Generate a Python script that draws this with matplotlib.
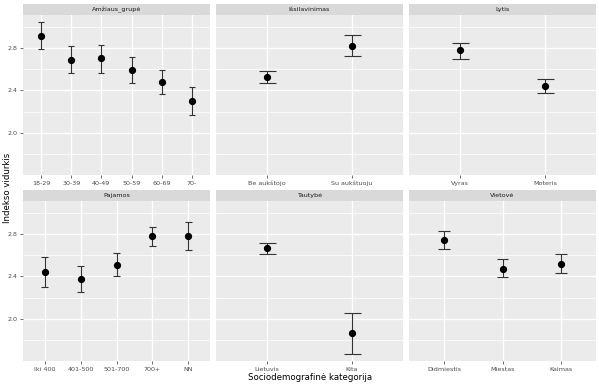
import matplotlib
matplotlib.use("Agg")
import matplotlib.pyplot as plt
import numpy as np

plt.rcParams['font.family'] = ['DejaVu Sans']

facets = ["Amžiaus_grupė", "Išsilavinimas", "Lytis", "Pajamos", "Tautybė", "Vietovė"]
cats = [
    ["18-29", "30-39", "40-49", "50-59", "60-69", "70-"],
    ["Be aukštojo", "Su aukštuoju"],
    ["Vyras", "Moteris"],
    ["Iki 400", "401-500", "501-700", "700+", "NN"],
    ["Lietuvis", "Kita"],
    ["Didmiestis", "Miestas", "Kaimas"],
]
means = [
    [2.91, 2.69, 2.70, 2.595, 2.48, 2.298],
    [2.524, 2.82],
    [2.775, 2.44],
    [2.44, 2.378, 2.506, 2.779, 2.779],
    [2.664, 1.869],
    [2.741, 2.474, 2.518],
]
lower = [
    [2.79, 2.56, 2.567, 2.474, 2.363, 2.167],
    [2.468, 2.725],
    [2.698, 2.375],
    [2.298, 2.251, 2.40, 2.688, 2.648],
    [2.611, 1.674],
    [2.657, 2.39, 2.428],
]
upper = [
    [3.04, 2.815, 2.825, 2.713, 2.595, 2.434],
    [2.586, 2.92],
    [2.847, 2.51],
    [2.586, 2.502, 2.617, 2.865, 2.909],
    [2.716, 2.06],
    [2.825, 2.567, 2.614],
]
y_ticks = [2.0, 2.4, 2.8]
y_minor = [1.8, 2.2, 2.6, 3.0]

W, H = 599, 384
fig = plt.figure(figsize=(W / 100, H / 100), dpi=100)
fig.patch.set_facecolor("white")

all_lo = min(min(l) for l in lower)
all_hi = max(max(u) for u in upper)
rng = all_hi - all_lo
ylim = (all_lo - 0.05 * rng, all_hi + 0.05 * rng)

col_x = [23, 216, 409]
pw = 187
rows = [(15, 175, 4), (201, 361, 190)]  # panel top, panel bottom, strip top

for i, name in enumerate(facets):
    r, c = divmod(i, 3)
    ptop, pbot, stop = rows[r]
    x0 = col_x[c]
    ax = fig.add_axes([x0 / W, 1 - pbot / H, pw / W, (pbot - ptop) / H])
    ax.set_facecolor("#EBEBEB")
    for s in ax.spines.values():
        s.set_visible(False)
    n = len(cats[i])
    xs = np.arange(1, n + 1)
    ax.set_xlim(0.4, n + 0.6)
    ax.set_ylim(*ylim)
    for yv in y_minor:
        ax.axhline(yv, color="white", lw=0.5, zorder=0)
    for yv in y_ticks:
        ax.axhline(yv, color="white", lw=1.0, zorder=0)
    for xv in xs:
        ax.axvline(xv, color="white", lw=1.0, zorder=0)
    ax.vlines(xs, lower[i], upper[i], color="#333333", lw=0.8, zorder=2)
    ax.hlines(lower[i], xs - 0.1, xs + 0.1, color="#333333", lw=0.8, zorder=2)
    ax.hlines(upper[i], xs - 0.1, xs + 0.1, color="#333333", lw=0.8, zorder=2)
    ax.plot(xs, means[i], "o", color="black", ms=4.2, zorder=3)
    ax.set_xticks(xs)
    ax.set_xticklabels(cats[i], fontsize=4.6, color="#4D4D4D")
    ax.set_yticks(y_ticks)
    if c == 0:
        ax.set_yticklabels([f"{v:.1f}" for v in y_ticks], fontsize=4.6, color="#4D4D4D")
    else:
        ax.set_yticklabels([])
        ax.tick_params(axis="y", length=0)
    ax.tick_params(axis="both", length=2, width=0.5, color="#333333", pad=2)
    if c != 0:
        ax.tick_params(axis="y", length=0)
    # strip
    sax = fig.add_axes([x0 / W, 1 - ptop / H, pw / W, (ptop - stop) / H])
    sax.set_facecolor("#D9D9D9")
    for s in sax.spines.values():
        s.set_visible(False)
    sax.set_xticks([])
    sax.set_yticks([])
    sax.text(0.5, 0.5, name, ha="center", va="center", fontsize=4.6,
             color="#1A1A1A", transform=sax.transAxes)

fig.text(8 / W, 1 - 188 / H, "Indekso vidurkis", rotation=90, ha="center",
         va="center", fontsize=6.2, color="black")
fig.text(310 / W, 1 - 377 / H, "Sociodemografinė kategorija", ha="center",
         va="center", fontsize=6.2, color="black")

fig.savefig("out.png", dpi=100)
